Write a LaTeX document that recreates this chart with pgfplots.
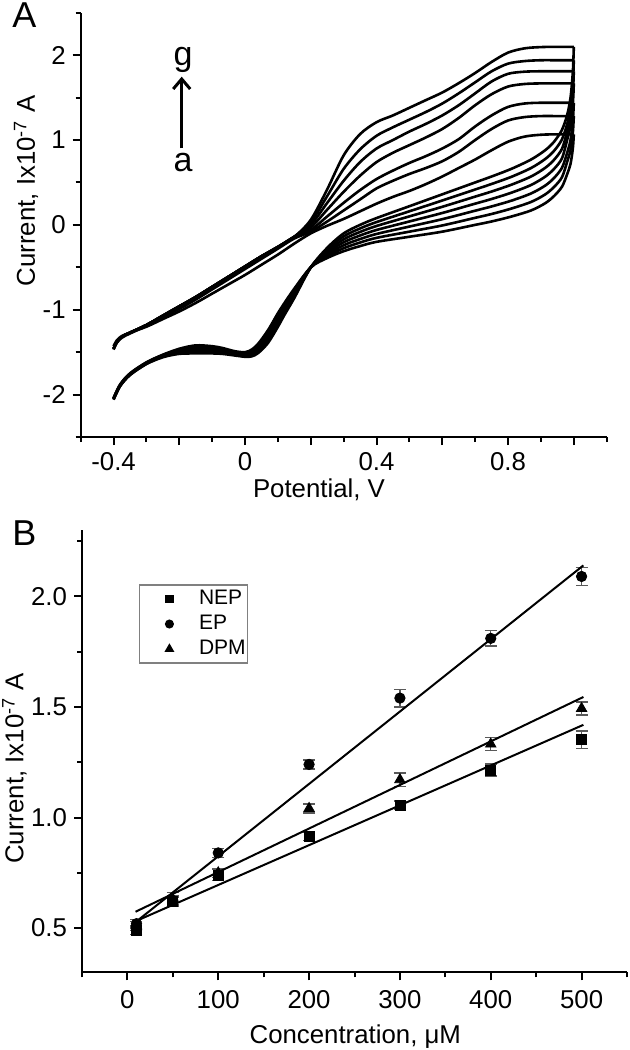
\documentclass[border=0pt]{standalone}
\usepackage{fontspec}
\setmainfont{Liberation Sans}
\usepackage{pgfplots}
\pgfplotsset{compat=1.18}
\usetikzlibrary{arrows.meta}

\pgfplotsset{
  panel/.style={
    scale only axis,
    axis x line*=bottom, axis y line*=left,
    axis line style={line width=1pt,-},
    every tick/.style={line width=1pt,black},
    tick align=outside,
    major tick length=4pt, minor tick length=2.5pt,
    tick label style={font=\fontsize{12.9}{15}\selectfont},
    label style={font=\fontsize{12.9}{15}\selectfont},
    /pgf/number format/assume math mode=true,
  },
  cv/.style={black, line width=1.3pt, smooth, tension=0.5, no marks},
}

\begin{document}
\begin{tikzpicture}
\path[use as bounding box] (0pt,0pt) rectangle (314.5pt,-525pt);

% ---------------- Panel A ----------------
\begin{axis}[panel,
  at={(40.35pt,-218.5pt)}, anchor=south west,
  width=263pt, height=212.15pt,
  xmin=-0.5, xmax=1.1, ymin=-2.5, ymax=2.5,
  xtick={-0.4,-0.2,0,0.2,0.4,0.6,0.8,1.0},
  xticklabels={-0.4,,0,,0.4,,0.8,},
  minor xtick={-0.5,-0.3,-0.1,0.1,0.3,0.5,0.7,0.9,1.1},
  ytick={-2,-1,0,1,2}, yticklabels={-2,-1,0,1,2},
  minor ytick={-2.5,-1.5,-0.5,0.5,1.5,2.5},
  xlabel={Potential, V},
  ylabel={Current, Ix10\textsuperscript{-7} A},
  xlabel style={at={(axis description cs:0.453,-0.1421)}, anchor=base},
  ylabel style={at={(axis description cs:-0.0869,0.58)}, anchor=base},
]
% forward scans
\addplot[cv] coordinates {(-0.4,-1.43) (-0.39,-1.36) (-0.375,-1.31) (-0.35,-1.27) (-0.3,-1.2) (-0.25,-1.11) (-0.2,-1.02) (-0.15,-0.92) (-0.1,-0.81) (-0.05,-0.7) (0,-0.59) (0.05,-0.47) (0.1,-0.35) (0.15,-0.22) (0.2,-0.1) (0.25,-0.01) (0.3,0.07) (0.35,0.16) (0.4,0.25) (0.45,0.33) (0.5,0.4) (0.55,0.48) (0.6,0.57) (0.65,0.67) (0.7,0.77) (0.75,0.88) (0.8,0.98) (0.85,1.04) (0.9,1.062) (0.95,1.067) (1.0,1.067)};
\addplot[cv] coordinates {(-0.4,-1.47) (-0.39,-1.39) (-0.375,-1.33) (-0.35,-1.28) (-0.3,-1.19) (-0.25,-1.09) (-0.2,-0.99) (-0.15,-0.88) (-0.1,-0.76) (-0.05,-0.64) (0,-0.52) (0.05,-0.4) (0.1,-0.28) (0.15,-0.16) (0.2,-0.08) (0.25,0.04) (0.3,0.17) (0.35,0.3) (0.4,0.43) (0.45,0.52) (0.5,0.6) (0.55,0.67) (0.6,0.75) (0.65,0.86) (0.7,1.0) (0.75,1.13) (0.8,1.23) (0.85,1.27) (0.9,1.282) (0.95,1.282) (1.0,1.282)};
\addplot[cv] coordinates {(-0.4,-1.46) (-0.39,-1.38) (-0.375,-1.32) (-0.35,-1.27) (-0.3,-1.18) (-0.25,-1.07) (-0.2,-0.96) (-0.15,-0.85) (-0.1,-0.73) (-0.05,-0.61) (0,-0.49) (0.05,-0.37) (0.1,-0.26) (0.15,-0.14) (0.2,-0.06) (0.25,0.1) (0.3,0.26) (0.35,0.41) (0.4,0.54) (0.45,0.64) (0.5,0.73) (0.55,0.81) (0.6,0.9) (0.65,1.01) (0.7,1.16) (0.75,1.29) (0.8,1.39) (0.85,1.43) (0.9,1.439) (0.95,1.439) (1.0,1.439)};
\addplot[cv] coordinates {(-0.4,-1.46) (-0.39,-1.38) (-0.375,-1.32) (-0.35,-1.27) (-0.3,-1.18) (-0.25,-1.07) (-0.2,-0.96) (-0.15,-0.85) (-0.1,-0.73) (-0.05,-0.61) (0,-0.49) (0.05,-0.37) (0.1,-0.26) (0.15,-0.14) (0.2,-0.03) (0.25,0.18) (0.3,0.39) (0.35,0.58) (0.4,0.74) (0.45,0.85) (0.5,0.94) (0.55,1.03) (0.6,1.13) (0.65,1.26) (0.7,1.41) (0.75,1.54) (0.8,1.63) (0.85,1.66) (0.9,1.667) (0.95,1.667) (1.0,1.667)};
\addplot[cv] coordinates {(-0.4,-1.46) (-0.39,-1.38) (-0.375,-1.32) (-0.35,-1.27) (-0.3,-1.18) (-0.25,-1.07) (-0.2,-0.96) (-0.15,-0.85) (-0.1,-0.73) (-0.05,-0.61) (0,-0.49) (0.05,-0.37) (0.1,-0.26) (0.15,-0.14) (0.2,0.0) (0.25,0.26) (0.3,0.52) (0.35,0.74) (0.4,0.9) (0.45,1.0) (0.5,1.1) (0.55,1.19) (0.6,1.29) (0.65,1.41) (0.7,1.55) (0.75,1.69) (0.8,1.78) (0.85,1.805) (0.9,1.81) (0.95,1.81) (1.0,1.81)};
\addplot[cv] coordinates {(-0.4,-1.46) (-0.39,-1.38) (-0.375,-1.32) (-0.35,-1.27) (-0.3,-1.18) (-0.25,-1.07) (-0.2,-0.96) (-0.15,-0.85) (-0.1,-0.73) (-0.05,-0.61) (0,-0.49) (0.05,-0.37) (0.1,-0.26) (0.15,-0.14) (0.2,0.03) (0.25,0.34) (0.3,0.66) (0.35,0.89) (0.4,1.05) (0.45,1.15) (0.5,1.24) (0.55,1.33) (0.6,1.43) (0.65,1.55) (0.7,1.68) (0.75,1.81) (0.8,1.9) (0.85,1.93) (0.9,1.94) (0.95,1.94) (1.0,1.94)};
\addplot[cv] coordinates {(-0.4,-1.46) (-0.39,-1.38) (-0.375,-1.32) (-0.35,-1.27) (-0.3,-1.18) (-0.25,-1.07) (-0.2,-0.96) (-0.15,-0.85) (-0.1,-0.73) (-0.05,-0.61) (0,-0.49) (0.05,-0.37) (0.1,-0.26) (0.15,-0.14) (0.2,0.06) (0.25,0.42) (0.3,0.82) (0.35,1.07) (0.4,1.21) (0.45,1.29) (0.5,1.38) (0.55,1.47) (0.6,1.56) (0.65,1.67) (0.7,1.79) (0.75,1.92) (0.8,2.03) (0.85,2.08) (0.9,2.095) (0.95,2.098) (1.0,2.098)};
% reverse scans
\addplot[cv] coordinates {(1.0,1.067) (0.997,0.9) (0.99,0.72) (0.98,0.6) (0.964,0.45) (0.94,0.34) (0.913,0.255) (0.87,0.17) (0.81,0.098) (0.75,0.04) (0.7,0.0) (0.6,-0.08) (0.5,-0.14) (0.4,-0.2) (0.35,-0.25) (0.3,-0.31) (0.25,-0.39) (0.2,-0.5) (0.15,-0.75) (0.12,-0.92) (0.1,-1.04) (0.07,-1.24) (0.04,-1.4) (0.02,-1.47) (0,-1.5) (-0.03,-1.49) (-0.07,-1.45) (-0.1,-1.43) (-0.15,-1.42) (-0.2,-1.46) (-0.25,-1.53) (-0.3,-1.62) (-0.35,-1.75) (-0.38,-1.88) (-0.4,-2.04)};
\addplot[cv] coordinates {(1.0,1.282) (0.997,1.088) (0.99,0.883) (0.98,0.746) (0.964,0.562) (0.94,0.447) (0.913,0.359) (0.87,0.27) (0.81,0.192) (0.75,0.128) (0.7,0.083) (0.6,-0.007) (0.5,-0.08) (0.4,-0.153) (0.35,-0.208) (0.3,-0.275) (0.25,-0.37) (0.2,-0.5) (0.15,-0.768) (0.12,-0.943) (0.1,-1.067) (0.07,-1.265) (0.04,-1.418) (0.02,-1.483) (0,-1.509) (-0.03,-1.498) (-0.07,-1.462) (-0.1,-1.444) (-0.15,-1.436) (-0.2,-1.47) (-0.25,-1.535) (-0.3,-1.623) (-0.35,-1.753) (-0.38,-1.885) (-0.4,-2.043)};
\addplot[cv] coordinates {(1.0,1.439) (0.997,1.225) (0.99,1.001) (0.98,0.853) (0.964,0.673) (0.94,0.553) (0.913,0.463) (0.87,0.37) (0.81,0.285) (0.75,0.217) (0.7,0.167) (0.6,0.067) (0.5,-0.02) (0.4,-0.107) (0.35,-0.167) (0.3,-0.24) (0.25,-0.35) (0.2,-0.5) (0.15,-0.787) (0.12,-0.967) (0.1,-1.093) (0.07,-1.29) (0.04,-1.437) (0.02,-1.497) (0,-1.518) (-0.03,-1.507) (-0.07,-1.473) (-0.1,-1.458) (-0.15,-1.452) (-0.2,-1.48) (-0.25,-1.54) (-0.3,-1.627) (-0.35,-1.757) (-0.38,-1.89) (-0.4,-2.047)};
\addplot[cv] coordinates {(1.0,1.667) (0.997,1.424) (0.99,1.174) (0.98,1.007) (0.964,0.785) (0.94,0.66) (0.913,0.568) (0.87,0.47) (0.81,0.379) (0.75,0.305) (0.7,0.25) (0.6,0.14) (0.5,0.04) (0.4,-0.06) (0.35,-0.125) (0.3,-0.205) (0.25,-0.33) (0.2,-0.5) (0.15,-0.805) (0.12,-0.99) (0.1,-1.12) (0.07,-1.315) (0.04,-1.455) (0.02,-1.51) (0,-1.528) (-0.03,-1.515) (-0.07,-1.485) (-0.1,-1.473) (-0.15,-1.468) (-0.2,-1.49) (-0.25,-1.545) (-0.3,-1.63) (-0.35,-1.76) (-0.38,-1.89) (-0.4,-2.05)};
\addplot[cv] coordinates {(1.0,1.81) (0.997,1.549) (0.99,1.282) (0.98,1.104) (0.964,0.897) (0.94,0.767) (0.913,0.672) (0.87,0.57) (0.81,0.473) (0.75,0.393) (0.7,0.333) (0.6,0.213) (0.5,0.1) (0.4,-0.013) (0.35,-0.083) (0.3,-0.17) (0.25,-0.31) (0.2,-0.5) (0.15,-0.823) (0.12,-1.013) (0.1,-1.147) (0.07,-1.34) (0.04,-1.473) (0.02,-1.523) (0,-1.537) (-0.03,-1.523) (-0.07,-1.497) (-0.1,-1.487) (-0.15,-1.483) (-0.2,-1.5) (-0.25,-1.55) (-0.3,-1.633) (-0.35,-1.763) (-0.38,-1.895) (-0.4,-2.053)};
\addplot[cv] coordinates {(1.0,1.94) (0.997,1.662) (0.99,1.38) (0.98,1.193) (0.964,1.008) (0.94,0.873) (0.913,0.776) (0.87,0.67) (0.81,0.566) (0.75,0.482) (0.7,0.417) (0.6,0.287) (0.5,0.16) (0.4,0.033) (0.35,-0.042) (0.3,-0.135) (0.25,-0.29) (0.2,-0.5) (0.15,-0.842) (0.12,-1.037) (0.1,-1.173) (0.07,-1.365) (0.04,-1.492) (0.02,-1.537) (0,-1.546) (-0.03,-1.532) (-0.07,-1.508) (-0.1,-1.501) (-0.15,-1.499) (-0.2,-1.51) (-0.25,-1.555) (-0.3,-1.637) (-0.35,-1.767) (-0.38,-1.897) (-0.4,-2.057)};
\addplot[cv] coordinates {(1.0,2.098) (0.997,1.8) (0.99,1.5) (0.98,1.3) (0.964,1.12) (0.94,0.98) (0.913,0.88) (0.87,0.77) (0.81,0.66) (0.75,0.57) (0.7,0.5) (0.6,0.36) (0.5,0.22) (0.4,0.08) (0.35,0.0) (0.3,-0.1) (0.25,-0.27) (0.2,-0.5) (0.15,-0.86) (0.12,-1.06) (0.1,-1.2) (0.07,-1.39) (0.04,-1.51) (0.02,-1.55) (0,-1.555) (-0.03,-1.54) (-0.07,-1.52) (-0.1,-1.515) (-0.15,-1.515) (-0.2,-1.52) (-0.25,-1.56) (-0.3,-1.64) (-0.35,-1.77) (-0.38,-1.9) (-0.4,-2.06)};
\end{axis}

% annotations panel A
\node[anchor=base west, inner sep=0pt, font=\fontsize{18}{20}\selectfont] at (6pt,-13.5pt) {A};
\node[anchor=base, inner sep=0pt, font=\fontsize{17}{20}\selectfont] at (91.5pt,-32.5pt) {g};
\node[anchor=base, inner sep=0pt, font=\fontsize{17}{20}\selectfont] at (91.5pt,-85.85pt) {a};
\draw[line width=1.5pt, -{Straight Barb[length=5pt,width=8.5pt]}] (90.85pt,-74.15pt) -- (90.85pt,-38.35pt);

% ---------------- Panel B ----------------
\begin{axis}[panel,
  at={(41pt,-486.15pt)}, anchor=south west,
  width=272.5pt, height=221.15pt,
  xmin=-50, xmax=550, ymin=0.3, ymax=2.3,
  xtick={0,100,200,300,400,500}, xticklabels={0,100,200,300,400,500},
  minor xtick={-50,50,150,250,350,450,550},
  xticklabel style={yshift=-1.5pt},
  ytick={0.5,1,1.5,2}, yticklabels={0.5,1.0,1.5,2.0},
  minor ytick={0.75,1.25,1.75,2.25},
  xlabel={Concentration, μM},
  ylabel={Current, Ix10\textsuperscript{-7} A},
  xlabel style={at={(axis description cs:0.5015,-0.1605)}, anchor=base},
  ylabel style={at={(axis description cs:-0.1077,0.461)}, anchor=base},
  legend style={at={(axis description cs:0.105,0.877)}, anchor=north west,
    draw=gray, line width=0.6pt, inner xsep=1pt, inner ysep=2pt,
    row sep=2.5pt, column sep=7pt,
    font=\fontsize{10.5}{12}\selectfont,
    nodes={inner sep=0pt, text height=7.6pt, text depth=2.4pt}},
  legend cell align=left,
  legend image code/.code={\path (0pt,-3pt) (21pt,3pt); \draw[#1,mark options={scale=0.75}] plot coordinates {(13.5pt,0pt)};},
  error bars/error bar style={gray!70!black, line width=0.7pt},
  error bars/error mark options={gray!70!black, line width=0.7pt, mark size=3pt, rotate=90},
]
\addplot[only marks, mark=square*, mark size=2.5pt, black,
  error bars/.cd, y dir=both, y explicit]
  coordinates {(10,0.49) +- (0,0.02) (50,0.62) +- (0,0.02) (100,0.74) +- (0,0.025) (200,0.915) +- (0,0.02) (300,1.055) +- (0,0.02) (400,1.215) +- (0,0.027) (500,1.352) +- (0,0.04)};
\addlegendentry{NEP}
\addplot[only marks, mark=*, mark size=2.6pt, black,
  error bars/.cd, y dir=both, y explicit]
  coordinates {(10,0.52) +- (0,0.02) (50,0.625) +- (0,0.02) (100,0.84) +- (0,0.02) (200,1.24) +- (0,0.02) (300,1.54) +- (0,0.04) (400,1.81) +- (0,0.035) (500,2.09) +- (0,0.04)};
\addlegendentry{EP}
\addplot[only marks, mark=triangle*, mark size=3pt, black,
  error bars/.cd, y dir=both, y explicit]
  coordinates {(10,0.51) +- (0,0.02) (50,0.63) +- (0,0.03) (100,0.75) +- (0,0.02) (200,1.041) +- (0,0.02) (300,1.171) +- (0,0.03) (400,1.332) +- (0,0.03) (500,1.493) +- (0,0.03)};
\addlegendentry{DPM}
\addplot[black, line width=1pt, no marks, forget plot] coordinates {(9,0.531) (502,1.419)};
\addplot[black, line width=1pt, no marks, forget plot] coordinates {(9,0.527) (502,2.140)};
\addplot[black, line width=1pt, no marks, forget plot] coordinates {(9,0.574) (502,1.545)};
\end{axis}

\node[anchor=base west, inner sep=0pt, font=\fontsize{18}{20}\selectfont] at (6pt,-272.5pt) {B};
\end{tikzpicture}
\end{document}
